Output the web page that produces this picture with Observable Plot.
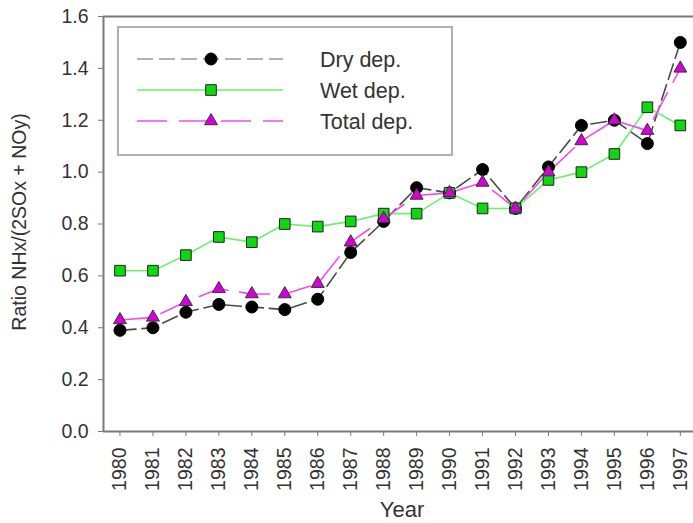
<!DOCTYPE html>
<html>
<head>
<meta charset="utf-8">
<script src="https://cdn.jsdelivr.net/npm/d3@7"></script>
<script src="https://cdn.jsdelivr.net/npm/@observablehq/plot@0.6"></script>
<style>
  html, body { margin: 0; padding: 0; background: #fff; }
  #chart { width: 693px; height: 523px; }
</style>
</head>
<body>
<div id="chart"></div>
<script>
const years = [1980,1981,1982,1983,1984,1985,1986,1987,1988,1989,1990,1991,1992,1993,1994,1995,1996,1997];
const dryDep   = [0.39,0.40,0.46,0.49,0.48,0.47,0.51,0.69,0.81,0.94,0.92,1.01,0.86,1.02,1.18,1.20,1.11,1.50];
const wetDep   = [0.62,0.62,0.68,0.75,0.73,0.80,0.79,0.81,0.84,0.84,0.92,0.86,0.86,0.97,1.00,1.07,1.25,1.18];
const totalDep = [0.43,0.44,0.50,0.55,0.53,0.53,0.57,0.73,0.82,0.91,0.92,0.96,0.86,1.00,1.12,1.20,1.16,1.40];
const yTicks = [0.0,0.2,0.4,0.6,0.8,1.0,1.2,1.4,1.6];
const seriesNames = ["Dry dep.", "Wet dep.", "Total dep."];

const dry = years.map((y,i) => ({year:y, v:dryDep[i]}));
const wet = years.map((y,i) => ({year:y, v:wetDep[i]}));
const tot = years.map((y,i) => ({year:y, v:totalDep[i]}));

const styles = [
  {line:"#4a4a4a", legLine:"#9a9a9a", dash:"16,6", symbol:"circle", fill:"#000", stroke:"#000", r:6},
  {line:"#6cf06c", legLine:"#6cf06c", dash:null, symbol:"square", fill:"#10d810", stroke:"#222", r:6.0},
  {line:"#f04cf0", legLine:"#f04cf0", dash:"30,12", symbol:"triangle", fill:"#d800d8", stroke:"#333", r:4.8}
];
const datasets = [dry, wet, tot];

const axisColor = "#7a7a7a";
const textColor = "#333";

const marks = [
  Plot.ruleY([1.6], {stroke: axisColor, strokeWidth: 2}),
  Plot.ruleY([0], {stroke: axisColor, strokeWidth: 2}),
  Plot.ruleX([1979.5], {stroke: axisColor, strokeWidth: 2}),
  Plot.axisX({ticks: years, tickFormat: d => String(d), tickRotate: -90, tickSize: 5, tickPadding: 11, stroke: axisColor, fill: textColor, fontSize: 19.5, label: null}),
  Plot.axisY({ticks: yTicks, tickFormat: d => d.toFixed(1), tickSize: 5, tickPadding: 10, stroke: axisColor, fill: textColor, fontSize: 19.5, label: null}),
];
datasets.forEach((d, i) => {
  const s = styles[i];
  marks.push(Plot.line(d, {x: "year", y: "v", stroke: s.line, strokeWidth: 1.6, strokeDasharray: s.dash || undefined}));
});
datasets.forEach((d, i) => {
  const s = styles[i];
  marks.push(Plot.dot(d, {x: "year", y: "v", symbol: s.symbol, r: s.r, fill: s.fill, stroke: s.stroke, strokeWidth: 1}));
});

const svg = Plot.plot({
  width: 693,
  height: 523,
  marginLeft: 103,
  marginRight: 0,
  marginTop: 16,
  marginBottom: 92,
  style: {fontFamily: "'Liberation Sans', Arial, sans-serif", background: "#fff", overflow: "visible"},
  x: {domain: [1979.5, 1997.4]},
  y: {domain: [0, 1.6]},
  marks
});

document.getElementById("chart").appendChild(svg);

// Axis titles and legend
const g = d3.select(svg).append("g").attr("font-family", "'Liberation Sans', Arial, sans-serif");
g.append("text").attr("x", 402).attr("y", 517).attr("text-anchor", "middle")
  .attr("font-size", 22).attr("fill", textColor).text("Year");
g.append("text").attr("transform", "translate(26,222) rotate(-90)").attr("text-anchor", "middle")
  .attr("font-size", 19.5).attr("fill", textColor).text("Ratio NHx/(2SOx + NOy)");

const leg = g.append("g");
leg.append("rect").attr("x", 118).attr("y", 27).attr("width", 334).attr("height", 128)
  .attr("fill", "#fff").attr("stroke", "#b0b0b0").attr("stroke-width", 2);
const symGen = {circle: d3.symbolCircle, square: d3.symbolSquare, triangle: d3.symbolTriangle};
seriesNames.forEach((name, i) => {
  const s = styles[i];
  const yy = 59 + i * 31;
  leg.append("line").attr("x1", 137).attr("x2", 283).attr("y1", yy).attr("y2", yy)
    .attr("stroke", s.legLine).attr("stroke-width", 1.6).attr("stroke-dasharray", s.dash || null);
  leg.append("path").attr("transform", `translate(211,${yy})`)
    .attr("d", d3.symbol(symGen[s.symbol], Math.PI * s.r * s.r)())
    .attr("fill", s.fill).attr("stroke", s.stroke).attr("stroke-width", 1);
  leg.append("text").attr("x", 320).attr("y", yy).attr("dy", "0.35em").attr("text-anchor", "start")
    .attr("font-size", 21.5).attr("fill", textColor).text(name);
});
</script>
</body>
</html>
